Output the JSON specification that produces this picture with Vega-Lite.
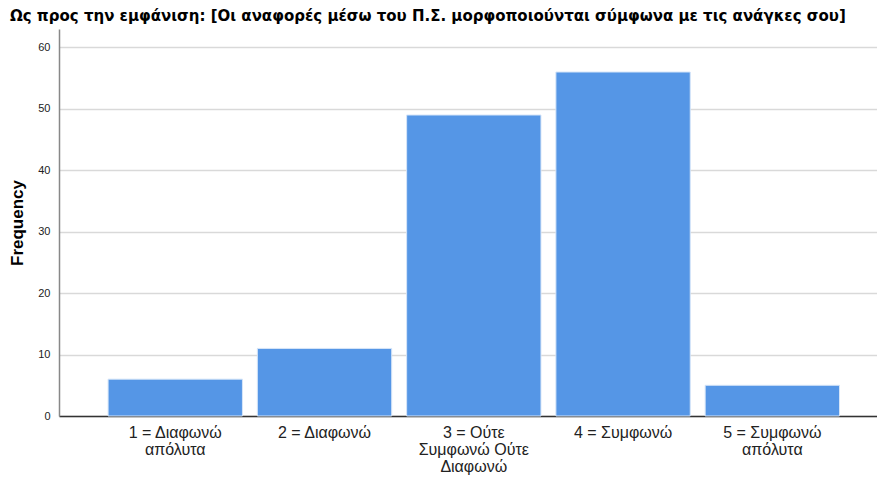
{
  "$schema": "https://vega.github.io/schema/vega-lite/v6.json",
  "autosize": {"type": "none"},
  "padding": {"left": 59, "top": 29, "right": 0, "bottom": 63},
  "width": 818,
  "height": 387,
  "background": "white",
  "title": {
    "text": "Ως προς την εμφάνιση: [Οι αναφορές μέσω του Π.Σ. μορφοποιούνται σύμφωνα με τις ανάγκες σου]",
    "anchor": "start",
    "frame": "group",
    "dx": -49,
    "offset": 5,
    "font": "DejaVu Sans",
    "fontSize": 15,
    "fontWeight": "bold",
    "color": "#000000"
  },
  "data": {
    "values": [
      {"category": "1 = Διαφωνώ απόλυτα", "frequency": 6},
      {"category": "2 = Διαφωνώ", "frequency": 11},
      {"category": "3 = Ούτε Συμφωνώ Ούτε Διαφωνώ", "frequency": 49},
      {"category": "4 = Συμφωνώ", "frequency": 56},
      {"category": "5 = Συμφωνώ απόλυτα", "frequency": 5}
    ]
  },
  "mark": {"type": "bar", "color": "#5596E6", "stroke": "#d6e5f8", "strokeWidth": 1},
  "encoding": {
    "x": {
      "field": "category",
      "type": "nominal",
      "sort": null,
      "title": null,
      "scale": {"paddingInner": 0.1, "paddingOuter": 0.29, "align": 0.567},
      "axis": {
        "labelAngle": 0,
        "labelFont": "Liberation Sans",
        "labelFontSize": 16,
        "labelColor": "#222222",
        "labelLineHeight": 17,
        "labelPadding": 8,
        "labelBaseline": "top",
        "ticks": false,
        "domainColor": "#333333",
        "domainWidth": 1.5,
        "grid": false,
        "labelExpr": "datum.value == '1 = Διαφωνώ απόλυτα' ? ['1 = Διαφωνώ', 'απόλυτα'] : datum.value == '3 = Ούτε Συμφωνώ Ούτε Διαφωνώ' ? ['3 = Ούτε', 'Συμφωνώ Ούτε', 'Διαφωνώ'] : datum.value == '5 = Συμφωνώ απόλυτα' ? ['5 = Συμφωνώ', 'απόλυτα'] : datum.value"
      }
    },
    "y": {
      "field": "frequency",
      "type": "quantitative",
      "title": "Frequency",
      "scale": {"domain": [0, 63], "nice": false},
      "axis": {
        "values": [0, 10, 20, 30, 40, 50, 60],
        "labelFont": "Liberation Sans",
        "labelFontSize": 11,
        "labelColor": "#222222",
        "labelPadding": 9,
        "ticks": false,
        "domainColor": "#888888",
        "domainWidth": 1.5,
        "gridColor": "#d9d9d9",
        "gridWidth": 1.5,
        "titleFont": "Liberation Sans",
        "titleFontSize": 17,
        "titleFontWeight": "bold",
        "titleColor": "#000000",
        "titlePadding": 11
      }
    }
  },
  "config": {"view": {"stroke": null}}
}
